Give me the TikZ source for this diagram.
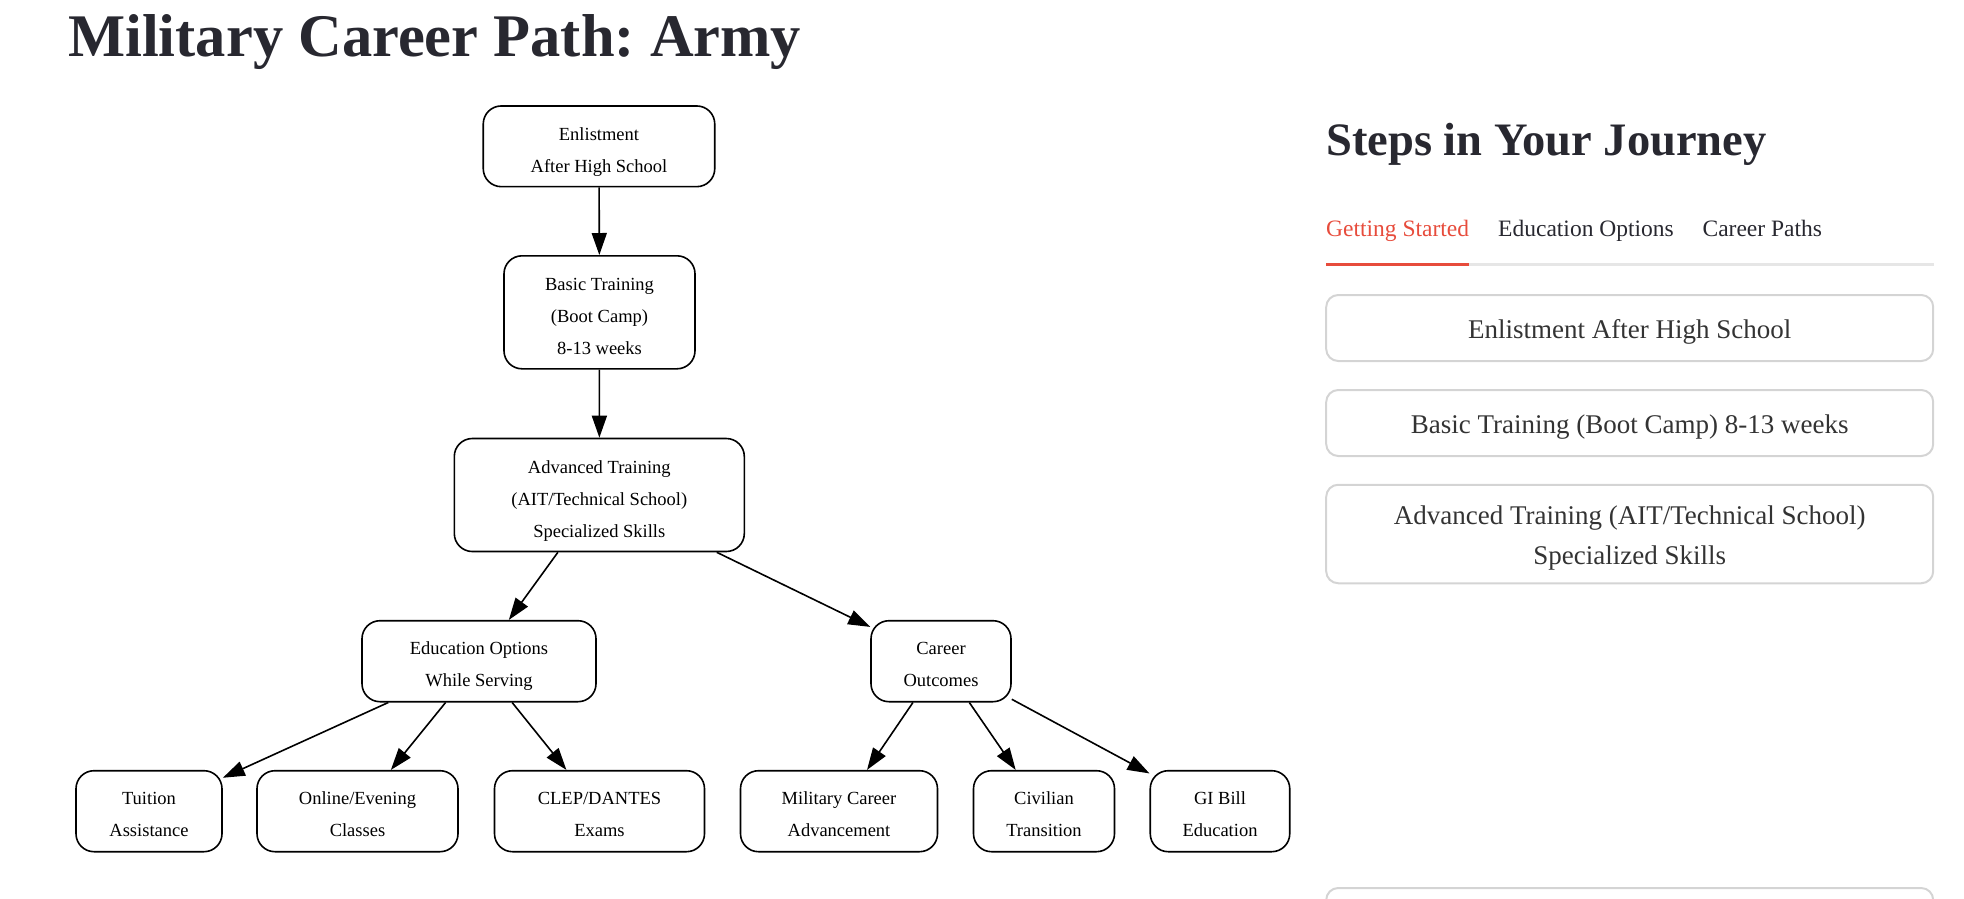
\documentclass[tikz,border=0pt]{standalone}
\usepackage{fontspec}
\setmainfont{Liberation Serif}
\usetikzlibrary{arrows.meta}
\definecolor{inkdark}{RGB}{40,40,48}
\definecolor{tabred}{RGB}{231,76,60}
\definecolor{cardline}{RGB}{212,212,212}
\definecolor{tabline}{RGB}{230,230,230}
\definecolor{cardtext}{RGB}{51,51,51}
\frenchspacing

\begin{document}
\begin{tikzpicture}[x=1pt, y=-1pt, every node/.style={inner sep=0pt},
	stepbox/.style={draw, line width=1.6pt, rounded corners=18pt, align=center, minimum height=81pt, font=\fontsize{18.5}{32}\selectfont, text height=55.5pt, text depth=4pt},
	tallbox/.style={stepbox, minimum height=113pt, text height=88pt},
	cardbox/.style={draw=cardline, line width=2pt, rounded corners=12pt, minimum width=607pt, align=center, text=cardtext, font=\fontsize{27}{40}\selectfont, text height=26.5pt, text depth=6pt},
	tab/.style={anchor=base west, font=\fontsize{23.5}{28}\selectfont},
	>={Triangle[length=22pt, width=15pt]}]
	\useasboundingbox (0,0) rectangle (1964,898);
	\node[anchor=base west, text=inkdark, font=\bfseries\fontsize{60.5}{70}\selectfont] (title) at (68,56) {Military Career Path: Army};

	\node[stepbox, minimum width=231.5pt, minimum height=80.7pt] (enlist) at (599,146.3) {Enlistment\\After High School};
	\node[tallbox, minimum width=191pt] (basic) at (599.5,312.3) {Basic Training\\(Boot Camp)\\8-13 weeks};
	\node[tallbox, minimum width=290pt] (adv) at (599.3,495) {Advanced Training\\(AIT/Technical School)\\Specialized Skills};
	\node[stepbox, minimum width=234pt] (edu) at (479,661.2) {Education Options\\While Serving};
	\node[stepbox, minimum width=140pt] (career) at (941,661.2) {Career\\Outcomes};
	\node[stepbox, minimum width=146pt] (tuition) at (149,811.2) {Tuition\\Assistance};
	\node[stepbox, minimum width=201pt] (online) at (357.5,811.2) {Online/Evening\\Classes};
	\node[stepbox, minimum width=210pt] (clep) at (599.5,811.2) {CLEP/DANTES\\Exams};
	\node[stepbox, minimum width=197pt] (military) at (839,811.2) {Military Career\\Advancement};
	\node[stepbox, minimum width=141pt] (civilian) at (1044,811.2) {Civilian\\Transition};
	\node[stepbox, minimum width=139.5pt] (gibill) at (1220,811.2) {GI Bill\\Education};

	\draw[->, line width=1.6pt] (enlist) -- (basic);
	\draw[->, line width=1.6pt] (basic) -- (adv);
	\draw[->, line width=1.6pt] (adv) -- (edu);
	\draw[->, line width=1.6pt] (adv) -- (career);
	\draw[->, line width=1.6pt] (edu) -- (tuition);
	\draw[->, line width=1.6pt] (edu) -- (online);
	\draw[->, line width=1.6pt] (edu) -- (clep);
	\draw[->, line width=1.6pt] (career) -- (military);
	\draw[->, line width=1.6pt] (career) -- (civilian);
	\draw[->, line width=1.6pt] (career) -- (gibill);

	\node[anchor=base west, text=inkdark, font=\bfseries\fontsize{46.5}{54}\selectfont] (steps) at (1326,155.5) {Steps in Your Journey};
	\node[tab, text=tabred] (tabstart) at (1326,236) {Getting Started};
	\node[tab, text=inkdark] (tabedu) at (1498,236) {Education Options};
	\node[tab, text=inkdark] (tabcareer) at (1702.4,236) {Career Paths};
	\draw[tabline, line width=2.3pt] (1326,264.5) -- (1934,264.5);
	\draw[tabred, line width=3pt] (1326,264.2) -- (1469.4,264.2);

	\node[cardbox, minimum height=66pt] (card1) at (1629.7,328) {Enlistment After High School};
	\node[cardbox, minimum height=66pt] (card2) at (1629.7,423) {Basic Training (Boot Camp) 8-13 weeks};
	\node[cardbox, minimum height=98.5pt, text height=66pt] (card3) at (1629.7,534) {Advanced Training (AIT/Technical School)\\Specialized Skills};
	\begin{scope}
		\clip (0,0) rectangle (1964,898);
		\node[cardbox, minimum height=66pt] (card4) at (1629.7,921) {};
	\end{scope}
\end{tikzpicture}
\end{document}
